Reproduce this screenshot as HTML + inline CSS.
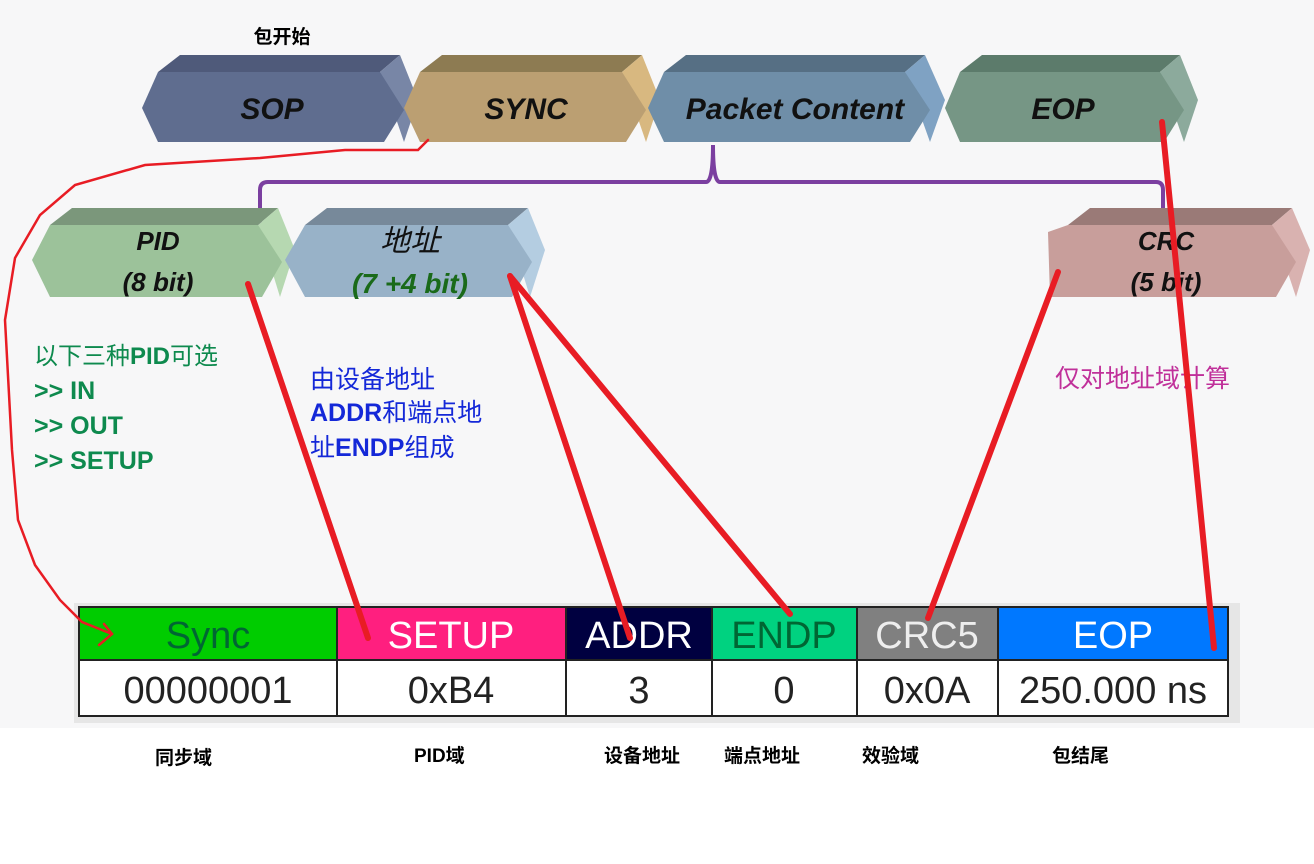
<!DOCTYPE html>
<html><head><meta charset="utf-8"><style>
html,body{margin:0;padding:0;background:#fff;}
svg{display:block;}
text{font-family:"Liberation Sans","Noto Sans CJK SC",sans-serif;}
</style></head><body>
<svg width="1314" height="864" viewBox="0 0 1314 864" xmlns="http://www.w3.org/2000/svg">
<rect x="0" y="0" width="1314" height="728" fill="#f7f7f8"/>
<!-- top row -->
<g>
<polygon points="158,72 180,55 400,55 380,72" fill="#4f5a7a"/>
<polygon points="380,72 400,55 418,100 404,142" fill="#7886a6"/>
<polygon points="142,108 158,72 380,72 404,110 384,142 158,142" fill="#5f6d8f"/>

<polygon points="420,72 442,55 642,55 622,72" fill="#8d7b52"/>
<polygon points="622,72 642,55 660,100 646,142" fill="#d8b880"/>
<polygon points="404,108 420,72 622,72 646,110 626,142 420,142" fill="#bb9f72"/>

<polygon points="664,72 686,55 925,55 905,72" fill="#566f84"/>
<polygon points="905,72 925,55 945,100 930,142" fill="#7fa2c3"/>
<polygon points="648,108 664,72 905,72 930,110 910,142 664,142" fill="#6f8ea8"/>

<polygon points="960,72 982,55 1180,55 1160,72" fill="#5c7b6b"/>
<polygon points="1160,72 1180,55 1198,100 1184,142" fill="#8caa9c"/>
<polygon points="945,108 960,72 1160,72 1184,110 1164,142 960,142" fill="#769685"/>
</g>
<g font-weight="bold" font-style="italic" font-size="30" fill="#111" text-anchor="middle">
<text x="272" y="119">SOP</text>
<text x="526" y="119">SYNC</text>
<text x="795" y="119">Packet  Content</text>
<text x="1063" y="119">EOP</text>
</g>
<text x="282" y="43" font-size="19" font-weight="bold" text-anchor="middle" fill="#000">包开始</text>
<!-- purple bracket -->
<path d="M260,225 L260,190 Q260,182 268,182 L706,182 Q713,182 713,145 Q713,182 720,182 L1156,182 Q1163,182 1163,190 L1163,225" fill="none" stroke="#7b3fa0" stroke-width="4"/>
<!-- second row -->
<g>
<polygon points="50,225 72,208 278,208 258,225" fill="#7b977b"/>
<polygon points="258,225 278,208 295,250 280,297" fill="#b6d8b1"/>
<polygon points="32,260 50,225 258,225 282,262 262,297 50,297" fill="#9cc29a"/>

<polygon points="305,225 327,208 528,208 508,225" fill="#77899a"/>
<polygon points="508,225 528,208 545,250 530,297" fill="#b4cde1"/>
<polygon points="285,260 305,225 508,225 532,262 512,297 305,297" fill="#98b2c8"/>

<polygon points="1068,225 1090,208 1292,208 1272,225" fill="#9a7a77"/>
<polygon points="1272,225 1292,208 1310,250 1296,297" fill="#d9b2b0"/>
<polygon points="1048,232 1068,225 1272,225 1296,262 1276,297 1050,297" fill="#c89e9b"/>
</g>
<g font-style="italic" font-size="26" text-anchor="middle" fill="#111">
<text x="158" y="250" font-weight="bold">PID</text>
<text x="158" y="291" font-weight="bold">(8 bit)</text>
<text x="410" y="251" font-size="30">地址</text>
<text x="410" y="293" font-weight="bold" fill="#1a6a1a" font-size="28">(7 +4 bit)</text>
<text x="1166" y="250" font-weight="bold">CRC</text>
<text x="1166" y="291" font-weight="bold">(5 bit)</text>
</g>
<!-- annotations -->
<g font-size="25" font-weight="bold" fill="#0e8a4e">
<text x="34" y="364" font-weight="normal" font-size="24">以下三种<tspan font-weight="bold">PID</tspan>可选</text>
<text x="34" y="399">&gt;&gt; IN</text>
<text x="34" y="434">&gt;&gt; OUT</text>
<text x="34" y="469">&gt;&gt; SETUP</text>
</g>
<g font-size="25" fill="#1428d8">
<text x="310" y="388">由设备地址</text>
<text x="310" y="421"><tspan font-weight="bold">ADDR</tspan>和端点地</text>
<text x="310" y="456">址<tspan font-weight="bold">ENDP</tspan>组成</text>
</g>
<text x="1055" y="387" font-size="25" fill="#c0309a">仅对地址域计算</text>
<!-- table -->
<rect x="74" y="603" width="1166" height="120" fill="#e6e6e6"/>
<g stroke="#222" stroke-width="2">
<rect x="79" y="607" width="258" height="53" fill="#00cc00"/>
<rect x="337" y="607" width="229" height="53" fill="#ff1f7f"/>
<rect x="566" y="607" width="146" height="53" fill="#000040"/>
<rect x="712" y="607" width="145" height="53" fill="#00d280"/>
<rect x="857" y="607" width="141" height="53" fill="#808080"/>
<rect x="998" y="607" width="230" height="53" fill="#0078ff"/>
<rect x="79" y="660" width="258" height="56" fill="#fff"/>
<rect x="337" y="660" width="229" height="56" fill="#fff"/>
<rect x="566" y="660" width="146" height="56" fill="#fff"/>
<rect x="712" y="660" width="145" height="56" fill="#fff"/>
<rect x="857" y="660" width="141" height="56" fill="#fff"/>
<rect x="998" y="660" width="230" height="56" fill="#fff"/>
</g>
<g font-size="38" text-anchor="middle" textLength="10">
<text x="208" y="648" fill="#063">Sync</text>
<text x="451" y="648" fill="#fff">SETUP</text>
<text x="639" y="648" fill="#fff">ADDR</text>
<text x="784" y="648" fill="#063">ENDP</text>
<text x="927" y="648" fill="#eee">CRC5</text>
<text x="1113" y="648" fill="#fff">EOP</text>
<text x="208" y="703" fill="#222">00000001</text>
<text x="451" y="703" fill="#222">0xB4</text>
<text x="639" y="703" fill="#222">3</text>
<text x="784" y="703" fill="#222">0</text>
<text x="927" y="703" fill="#222">0x0A</text>
<text x="1113" y="703" fill="#222">250.000 ns</text>
</g>
<g font-size="19" font-weight="bold" fill="#000">
<text x="155" y="764">同步域</text>
<text x="414" y="762">PID域</text>
<text x="604" y="762">设备地址</text>
<text x="724" y="762">端点地址</text>
<text x="862" y="762">效验域</text>
<text x="1052" y="762">包结尾</text>
</g>
<!-- red lines -->
<g stroke="#e81c24" stroke-linecap="round" fill="none">
<path d="M428,140 L418,150 L345,150 L260,158 L145,165 L75,185 L40,215 L15,258 L5,320 L12,450 L18,520 L35,565 L60,600 L82,622 L112,634" stroke-width="2.5"/>
<path d="M104,624 L112,634 L99,645" stroke-width="2.5"/>
<line x1="248" y1="284" x2="368" y2="638" stroke-width="6"/>
<line x1="510" y1="276" x2="630" y2="638" stroke-width="6"/>
<line x1="510" y1="276" x2="790" y2="614" stroke-width="6"/>
<line x1="1058" y1="272" x2="928" y2="618" stroke-width="6"/>
<line x1="1162" y1="122" x2="1214" y2="648" stroke-width="6"/>
</g>
</svg>
</body></html>
